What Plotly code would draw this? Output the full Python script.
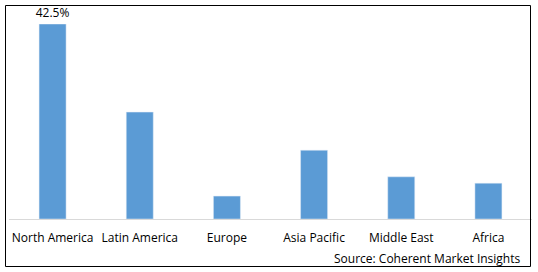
import plotly.graph_objects as go

regions = ["North America", "Latin America", "Europe", "Asia Pacific", "Middle East", "Africa"]
shares = [42.5, 23.3, 5.0, 15.0, 9.2, 7.8]
bar_labels = ["42.5%", "", "", "", "", ""]

W, H = 538, 272
L, R, T, B = 9, 6, 24, 53
pw = W - L - R
ph = H - T - B

fig = go.Figure(go.Bar(
    x=regions, y=shares, marker_color="#5B9BD5",
    text=bar_labels, textposition="outside", cliponaxis=False,
    constraintext="none",
    textfont=dict(family="Open Sans", size=12, color="#000000"),
    hoverinfo="skip",
))

def px_x(x):
    return (x - L) / pw

def px_y(y):
    return (H - B - y) / ph

fig.update_layout(
    width=W, height=H,
    margin=dict(l=L, r=R, t=T, b=B),
    paper_bgcolor="white", plot_bgcolor="white",
    bargap=0.69,
    showlegend=False,
    font=dict(family="Open Sans", size=12, color="#000000"),
    xaxis=dict(showline=True, linecolor="#D9D9D9", linewidth=1, ticks="",
               ticklabelstandoff=8,
               tickfont=dict(family="Open Sans", size=12, color="#000000"),
               showgrid=False, fixedrange=True),
    yaxis=dict(range=[0, 42.5], visible=False, showgrid=False, fixedrange=True),
    shapes=[dict(type="rect", xref="paper", yref="paper",
                 x0=px_x(5.5), x1=px_x(530.5), y0=px_y(266.5), y1=px_y(5.5),
                 line=dict(color="#000000", width=1), fillcolor="rgba(0,0,0,0)")],
    annotations=[dict(text="Source: Coherent Market Insights", xref="paper", yref="paper",
                      x=px_x(523), y=px_y(258), xanchor="right", yanchor="middle",
                      showarrow=False,
                      font=dict(family="Open Sans", size=12, color="#000000"))],
)

fig.write_html("out.html")
